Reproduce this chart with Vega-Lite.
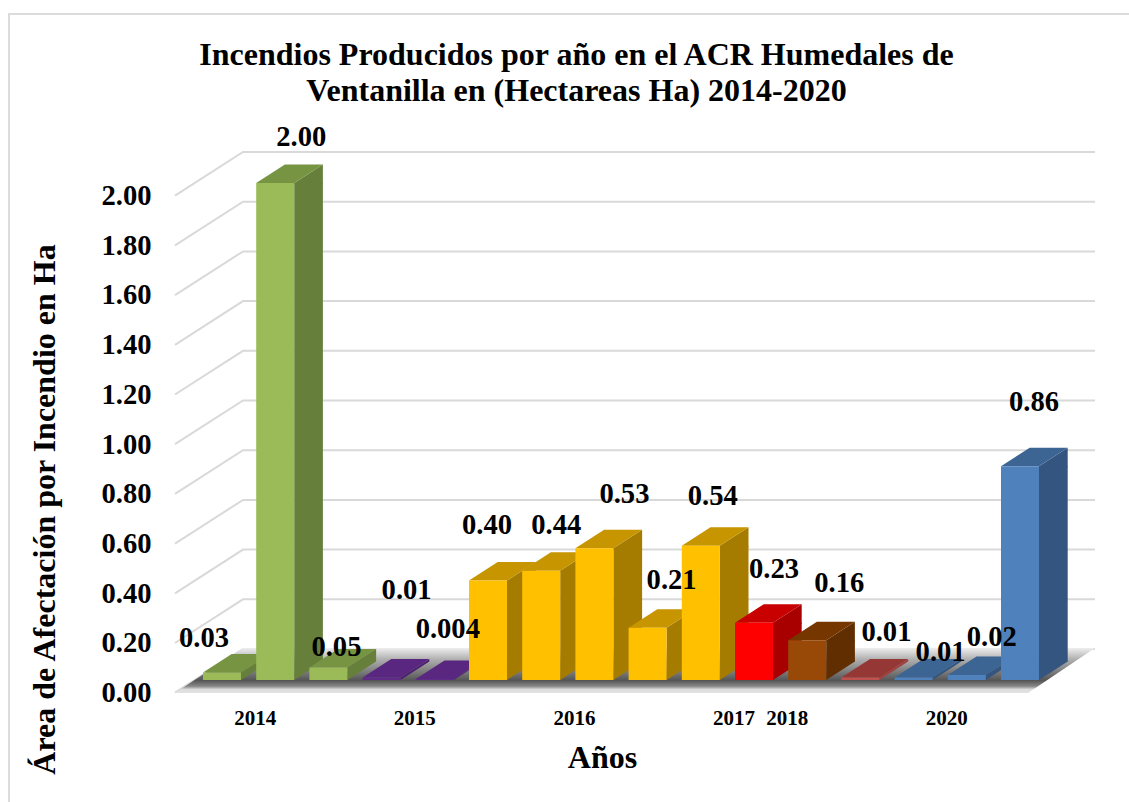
{
"$schema":"https://vega.github.io/schema/vega-lite/v6.json",
"width":1125,"height":790,"autosize":"none","padding":{"left":9,"top":14,"right":0,"bottom":0},
"background":"white",
"config":{"view":{"stroke":"#dcdcdc","strokeWidth":2},"font":"Liberation Serif"},
"title":{"text":["Incendios Producidos por año en el ACR Humedales de","Ventanilla en (Hectareas Ha) 2014-2020"],"font":"Liberation Serif","fontSize":32,"fontWeight":"bold","color":"black","lineHeight":36,"anchor":"middle","offset":-94,"dx":5,"baseline":"top"},
"datasets":{
"barras":[
{"id":"b01","valor":0.03,"etiqueta":"0.03","grupo":"verde"},
{"id":"b02","valor":2.0,"etiqueta":"2.00","grupo":"verde"},
{"id":"b03","valor":0.05,"etiqueta":"0.05","grupo":"verde"},
{"id":"b04","valor":0.01,"etiqueta":"0.01","grupo":"morado"},
{"id":"b05","valor":0.004,"etiqueta":"0.004","grupo":"morado"},
{"id":"b06","valor":0.4,"etiqueta":"0.40","grupo":"amarillo"},
{"id":"b07","valor":0.44,"etiqueta":"0.44","grupo":"amarillo"},
{"id":"b08","valor":0.53,"etiqueta":"0.53","grupo":"amarillo"},
{"id":"b09","valor":0.21,"etiqueta":"0.21","grupo":"amarillo"},
{"id":"b10","valor":0.54,"etiqueta":"0.54","grupo":"amarillo"},
{"id":"b11","valor":0.23,"etiqueta":"0.23","grupo":"rojo"},
{"id":"b12","valor":0.16,"etiqueta":"0.16","grupo":"marron"},
{"id":"b13","valor":0.01,"etiqueta":"0.01","grupo":"granate"},
{"id":"b14","valor":0.01,"etiqueta":"0.01","grupo":"azul"},
{"id":"b15","valor":0.02,"etiqueta":"0.02","grupo":"azul"},
{"id":"b16","valor":0.86,"etiqueta":"0.86","grupo":"azul"}
],
"rejilla":[{"v":0},{"v":0.2},{"v":0.4},{"v":0.6},{"v":0.8},{"v":1.0},{"v":1.2},{"v":1.4},{"v":1.6},{"v":1.8},{"v":2.0}],
"suelo":[{"v":0}]
},
"data":{"name":"barras"},
"encoding":{
"x":{"field":"id","type":"nominal","title":"Años","scale":{"domain":["b01","b02","b03","b04","b05","b06","b07","b08","b09","b10","b11","b12","b13","b14","b15","b16"],"range":[186.4,1037.6],"paddingInner":0.286,"paddingOuter":0.143},
"axis":{"orient":"bottom","offset":-98,"domain":false,"ticks":false,"grid":false,"labelAngle":0,"values":["b02","b05","b08","b11","b12","b15"],"labelExpr":"{'b02':'2014','b05':'2015','b08':'2016','b11':'2017','b12':'2018','b15':'2020'}[datum.value]","labelOffset":-20,"labelFont":"Liberation Serif","labelFontSize":21,"labelFontWeight":"bold","labelColor":"black","labelPadding":1,"titleFont":"Liberation Serif","titleFontSize":32,"titleFontWeight":"bold","titleColor":"black","titleX":593,"titleY":51,"titleBaseline":"middle"}},
"y":{"field":"valor","type":"quantitative","title":"Área de Afectación por Incendio en Ha","scale":{"domain":[0,2],"range":[666,169],"nice":false},
"axis":{"domain":false,"ticks":false,"grid":false,"values":[0,0.2,0.4,0.6,0.8,1.0,1.2,1.4,1.6,1.8,2.0],"format":".2f","labelAlign":"right","labelPadding":-142,"labelOffset":12.5,"labelFont":"Liberation Serif","labelFontSize":28.6,"labelFontWeight":"bold","labelColor":"black","labelOverlap":false,"titleFont":"Liberation Serif","titleFontSize":32,"titleFontWeight":"bold","titleColor":"black","titleAngle":-90,"titleX":35,"titleY":495,"titleBaseline":"middle","titleAlign":"center"}}
},
"layer":[
{"data":{"name":"rejilla"},"mark":{"type":"point","filled":false,"opacity":1,"stroke":"#d9d9d9","strokeWidth":2,"size":40000,"shape":"M-0.47,0.127L0.21,-0.31L8.73,-0.31"},"encoding":{"x":{"datum":"b01"},"y":{"field":"v","type":"quantitative"}}},
{"data":{"name":"suelo"},"mark":{"type":"point","filled":true,"opacity":1,"size":40000,"shape":"M-0.47,0.13L8.06,0.13L8.73,-0.32L0.21,-0.32Z","fill":{"gradient":"linear","x1":0,"y1":0,"x2":0,"y2":1,"stops":[{"offset":0,"color":"#eeeeee"},{"offset":0.25,"color":"#b0b0b0"},{"offset":0.55,"color":"#777777"},{"offset":0.72,"color":"#555555"},{"offset":0.85,"color":"#888888"},{"offset":0.92,"color":"#dddddd"},{"offset":1,"color":"#e2e2e2"}]}},"encoding":{"x":{"datum":"b01"},"y":{"field":"v","type":"quantitative"}}},
{"transform":[{"filter":"datum.valor>=0.1"}],"mark":{"type":"bar","width":28.7,"xOffset":33.35,"y2Offset":-18.5},"encoding":{"y2":{"datum":0},"color":{"field":"grupo","type":"nominal","legend":null,"scale":{"domain":["verde","morado","amarillo","rojo","marron","granate","azul"],"range":["#66803B","#4C2070","#A67C00","#A80000","#602E00","#A04040","#34557F"]}}}},
{"transform":[{"filter":"datum.valor>=0.1"}],"mark":{"type":"point","filled":true,"opacity":1,"size":40000,"shape":"M0.19,0L0.477,-0.185L0.477,0.01L0.19,0.01Z"},"encoding":{"color":{"field":"grupo","type":"nominal","legend":null,"scale":{"domain":["verde","morado","amarillo","rojo","marron","granate","azul"],"range":["#66803B","#4C2070","#A67C00","#A80000","#602E00","#A04040","#34557F"]}}}},
{"transform":[{"filter":"datum.valor>=0.1"}],"mark":{"type":"point","filled":true,"opacity":1,"size":40000,"shape":"M0.19,0L0.477,-0.185L0.477,-0.195L0.19,-0.195Z"},"encoding":{"y":{"datum":0},"color":{"field":"grupo","type":"nominal","legend":null,"scale":{"domain":["verde","morado","amarillo","rojo","marron","granate","azul"],"range":["#66803B","#4C2070","#A67C00","#A80000","#602E00","#A04040","#34557F"]}}}},
{"transform":[{"filter":"datum.valor<0.1"}],"mark":{"type":"point","filled":true,"opacity":1,"size":40000},"encoding":{"y":{"datum":0},"shape":{"field":"etiqueta","type":"nominal","legend":null,"scale":{"domain":["0.004","0.01","0.02","0.03","0.05"],"range":["M0.19,0L0.477,-0.185L0.477,-0.195L0.19,-0.01Z","M0.19,0L0.477,-0.185L0.477,-0.21L0.19,-0.025Z","M0.19,0L0.477,-0.185L0.477,-0.235L0.19,-0.05Z","M0.19,0L0.477,-0.185L0.477,-0.26L0.19,-0.075Z","M0.19,0L0.477,-0.185L0.477,-0.312L0.19,-0.127Z"]}},"color":{"field":"grupo","type":"nominal","legend":null,"scale":{"domain":["verde","morado","amarillo","rojo","marron","granate","azul"],"range":["#66803B","#4C2070","#A67C00","#A80000","#602E00","#A04040","#34557F"]}}}},
{"mark":{"type":"point","filled":true,"opacity":1,"size":40000,"shape":"M-0.19,0L0.19,0L0.477,-0.185L0.097,-0.185Z"},"encoding":{"color":{"field":"grupo","type":"nominal","legend":null,"scale":{"domain":["verde","morado","amarillo","rojo","marron","granate","azul"],"range":["#779443","#592680","#C69500","#C80000","#763600","#953735","#3C6594"]}}}},
{"mark":{"type":"bar"},"encoding":{"y2":{"datum":0},"color":{"field":"grupo","type":"nominal","legend":null,"scale":{"domain":["verde","morado","amarillo","rojo","marron","granate","azul"],"range":["#9BBB59","#5F2A8A","#FFC000","#FF0000","#984807","#C0504D","#4F81BD"]}}}},
{"transform":[{"filter":"datum.id=='b01'"}],"mark":{"type":"text","dx":-18,"dy":-34.5,"font":"Liberation Serif","fontSize":28.6,"fontWeight":"bold","color":"black"},"encoding":{"text":{"field":"etiqueta"}}},
{"transform":[{"filter":"datum.id=='b02'"}],"mark":{"type":"text","dx":26,"dy":-46,"font":"Liberation Serif","fontSize":28.6,"fontWeight":"bold","color":"black"},"encoding":{"text":{"field":"etiqueta"}}},
{"transform":[{"filter":"datum.id=='b03'"}],"mark":{"type":"text","dx":8,"dy":-21,"font":"Liberation Serif","fontSize":28.6,"fontWeight":"bold","color":"black"},"encoding":{"text":{"field":"etiqueta"}}},
{"transform":[{"filter":"datum.id=='b04'"}],"mark":{"type":"text","dx":25,"dy":-88,"font":"Liberation Serif","fontSize":28.6,"fontWeight":"bold","color":"black"},"encoding":{"text":{"field":"etiqueta"}}},
{"transform":[{"filter":"datum.id=='b05'"}],"mark":{"type":"text","dx":13,"dy":-50,"font":"Liberation Serif","fontSize":28.6,"fontWeight":"bold","color":"black"},"encoding":{"text":{"field":"etiqueta"}}},
{"transform":[{"filter":"datum.id=='b06'"}],"mark":{"type":"text","dx":-1,"dy":-56,"font":"Liberation Serif","fontSize":28.6,"fontWeight":"bold","color":"black"},"encoding":{"text":{"field":"etiqueta"}}},
{"transform":[{"filter":"datum.id=='b07'"}],"mark":{"type":"text","dx":15,"dy":-46,"font":"Liberation Serif","fontSize":28.6,"fontWeight":"bold","color":"black"},"encoding":{"text":{"field":"etiqueta"}}},
{"transform":[{"filter":"datum.id=='b08'"}],"mark":{"type":"text","dx":30,"dy":-54,"font":"Liberation Serif","fontSize":28.6,"fontWeight":"bold","color":"black"},"encoding":{"text":{"field":"etiqueta"}}},
{"transform":[{"filter":"datum.id=='b09'"}],"mark":{"type":"text","dx":24,"dy":-48,"font":"Liberation Serif","fontSize":28.6,"fontWeight":"bold","color":"black"},"encoding":{"text":{"field":"etiqueta"}}},
{"transform":[{"filter":"datum.id=='b10'"}],"mark":{"type":"text","dx":12,"dy":-50,"font":"Liberation Serif","fontSize":28.6,"fontWeight":"bold","color":"black"},"encoding":{"text":{"field":"etiqueta"}}},
{"transform":[{"filter":"datum.id=='b11'"}],"mark":{"type":"text","dx":20,"dy":-54,"font":"Liberation Serif","fontSize":28.6,"fontWeight":"bold","color":"black"},"encoding":{"text":{"field":"etiqueta"}}},
{"transform":[{"filter":"datum.id=='b12'"}],"mark":{"type":"text","dx":32,"dy":-57,"font":"Liberation Serif","fontSize":28.6,"fontWeight":"bold","color":"black"},"encoding":{"text":{"field":"etiqueta"}}},
{"transform":[{"filter":"datum.id=='b13'"}],"mark":{"type":"text","dx":26,"dy":-46,"font":"Liberation Serif","fontSize":28.6,"fontWeight":"bold","color":"black"},"encoding":{"text":{"field":"etiqueta"}}},
{"transform":[{"filter":"datum.id=='b14'"}],"mark":{"type":"text","dx":27,"dy":-26,"font":"Liberation Serif","fontSize":28.6,"fontWeight":"bold","color":"black"},"encoding":{"text":{"field":"etiqueta"}}},
{"transform":[{"filter":"datum.id=='b15'"}],"mark":{"type":"text","dx":25,"dy":-38,"font":"Liberation Serif","fontSize":28.6,"fontWeight":"bold","color":"black"},"encoding":{"text":{"field":"etiqueta"}}},
{"transform":[{"filter":"datum.id=='b16'"}],"mark":{"type":"text","dx":14,"dy":-64,"font":"Liberation Serif","fontSize":28.6,"fontWeight":"bold","color":"black"},"encoding":{"text":{"field":"etiqueta"}}}
],
"resolve":{"scale":{"color":"independent"}}
}
